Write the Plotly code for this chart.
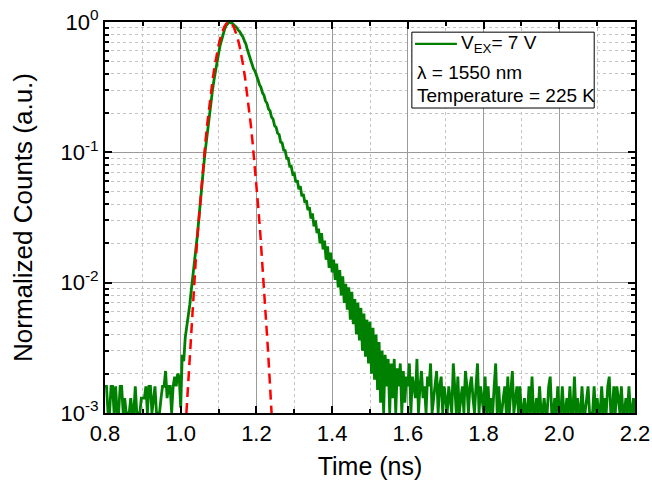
import numpy as np
import plotly.graph_objects as go

# ---------------- data ----------------
t_start_ns = 0.8
t_step_ns = 0.004

# background before the pulse, 0.800 .. 0.996 ns
counts_pre = [0.0016, 0.0016, 0.001, 0.001, 0.0016, 0.0016, 0.001, 0.0016, 0.001, 0.001,
              0.0016, 0.0016, 0.001, 0.0013, 0.001, 0.001, 0.001, 0.0013, 0.001, 0.001,
              0.0016, 0.001, 0.001, 0.001, 0.0013, 0.0013, 0.0013, 0.0016, 0.001, 0.0016,
              0.0016, 0.001, 0.0013, 0.0016, 0.001, 0.001, 0.001, 0.0013, 0.0016, 0.0016,
              0.0021, 0.0013, 0.0016, 0.0016, 0.001, 0.0016, 0.0019, 0.0016, 0.002, 0.0019]

# rising edge, 1.000 .. 1.128 ns
counts_rise = [0.0011, 0.0028, 0.0025, 0.0038, 0.0045, 0.0055, 0.0068, 0.0088, 0.011, 0.014,
               0.018, 0.023, 0.031, 0.040, 0.055, 0.075, 0.098, 0.125, 0.16, 0.20,
               0.245, 0.30, 0.36, 0.43, 0.50, 0.57, 0.66, 0.74, 0.81, 0.88,
               0.94, 0.98, 1.0]

# decay, 1.132 .. 1.596 ns
counts_decay = [0.99, 0.98, 0.95, 0.93, 0.905, 0.865, 0.845, 0.80, 0.77, 0.72,
                0.68, 0.615, 0.565, 0.515, 0.485, 0.44, 0.42, 0.38,
                0.362, 0.33, 0.315, 0.286, 0.274, 0.248, 0.238, 0.215, 0.208, 0.186,
                0.18, 0.16, 0.156, 0.14, 0.137, 0.12, 0.118, 0.104, 0.103, 0.09,
                0.09, 0.078, 0.078, 0.068, 0.069,
                0.059, 0.061, 0.052, 0.055, 0.046, 0.048, 0.041, 0.043, 0.036, 0.038,
                0.031, 0.034, 0.027, 0.030, 0.024, 0.026, 0.020, 0.024, 0.018, 0.021,
                0.015, 0.019, 0.013, 0.017, 0.012,
                0.015, 0.0105, 0.014, 0.0092, 0.0125, 0.0080, 0.0112, 0.0070, 0.0098, 0.0062,
                0.0092, 0.0052, 0.0085, 0.0048, 0.0075, 0.0040, 0.0070, 0.0036, 0.0064, 0.0030,
                0.0058, 0.0027, 0.0052, 0.0024, 0.0050,
                0.0020, 0.0045, 0.0018, 0.0040, 0.0015, 0.0035, 0.0012, 0.0030, 0.0010, 0.0028,
                0.0016, 0.0026, 0.0010, 0.0024, 0.0013, 0.0026, 0.0010, 0.0022, 0.0016, 0.0024,
                0.0010, 0.0021, 0.0012, 0.0019]

# background after the pulse, 1.600 .. 2.200 ns
counts_post = [0.0016, 0.0024, 0.001, 0.0019, 0.0016, 0.0013, 0.0026, 0.001, 0.0016, 0.0021,
               0.0013, 0.0016, 0.001, 0.0019, 0.0016, 0.0024, 0.001, 0.0013, 0.0016, 0.0021,
               0.001, 0.0016, 0.0019, 0.001, 0.0016, 0.0013,
               0.001, 0.0016, 0.0013, 0.001, 0.0024, 0.0016, 0.001, 0.0019, 0.001, 0.0013,
               0.0016, 0.001, 0.0021, 0.0016, 0.001, 0.0016, 0.0019, 0.0013, 0.001, 0.0016,
               0.0024, 0.001, 0.0016, 0.0013, 0.001,
               0.0019, 0.001, 0.0016, 0.001, 0.0013, 0.001, 0.0016, 0.0024, 0.001, 0.0016,
               0.001, 0.001, 0.0013, 0.0016, 0.001, 0.0019, 0.001, 0.0016, 0.0021, 0.001,
               0.0013, 0.0016, 0.001, 0.0016, 0.001,
               0.001, 0.0013, 0.001, 0.001, 0.0016, 0.001, 0.0019, 0.001, 0.001, 0.0013,
               0.001, 0.0016, 0.001, 0.001, 0.0013, 0.001, 0.001, 0.0016, 0.0019, 0.001,
               0.001, 0.0013, 0.001, 0.0016, 0.001,
               0.001, 0.0016, 0.001, 0.001, 0.0013, 0.001, 0.0016, 0.001, 0.001, 0.0019,
               0.001, 0.0013, 0.001, 0.001, 0.0016, 0.001, 0.001, 0.0013, 0.0016, 0.001,
               0.001, 0.001, 0.0016, 0.001, 0.0013,
               0.001, 0.001, 0.0016, 0.001, 0.0013, 0.001, 0.0016, 0.0019, 0.001, 0.001,
               0.0016, 0.001, 0.0016, 0.0013, 0.001, 0.0016, 0.001, 0.001, 0.0013, 0.001,
               0.0016, 0.001, 0.001, 0.0013, 0.001]

counts_green = counts_pre + counts_rise + counts_decay + counts_post
time_green = np.round(t_start_ns + t_step_ns * np.arange(len(counts_green)), 3)

# Gaussian fit (red dashed)
time_fit = [1.015, 1.020, 1.025, 1.030, 1.035, 1.040, 1.045, 1.050, 1.055, 1.060,
            1.065, 1.070, 1.075, 1.080, 1.085, 1.090, 1.095, 1.100, 1.105, 1.110,
            1.115, 1.120, 1.125, 1.130, 1.135, 1.140, 1.145, 1.150, 1.155, 1.160,
            1.165, 1.170, 1.175, 1.180, 1.185, 1.190, 1.195, 1.200, 1.205, 1.210,
            1.215, 1.220, 1.225, 1.230, 1.235, 1.240]
counts_fit = [0.001, 0.00181, 0.00321, 0.00554, 0.00932, 0.01524, 0.0243, 0.0375, 0.0566, 0.0829,
              0.118, 0.164, 0.222, 0.291, 0.373, 0.464, 0.562, 0.662, 0.758, 0.846,
              0.918, 0.970, 0.997, 0.997, 0.970, 0.918, 0.846, 0.758, 0.662, 0.562,
              0.464, 0.373, 0.291, 0.222, 0.164, 0.118, 0.0829, 0.0566, 0.0375, 0.0243,
              0.01524, 0.00932, 0.00554, 0.00321, 0.00181, 0.001]

x_ticks = [0.8, 1.0, 1.2, 1.4, 1.6, 1.8, 2.0, 2.2]
y_tickvals = [0.001, 0.01, 0.1, 1]
y_ticktext = ["10<sup>-3</sup>", "10<sup>-2</sup>", "10<sup>-1</sup>", "10<sup>0</sup>"]

legend_lines = ["V<sub>EX</sub>= 7 V", "λ = 1550 nm", "Temperature = 225 K"]

# ---------------- figure ----------------
FONT = "Liberation Sans, Arial, sans-serif"
GREEN = "#008000"

fig = go.Figure()
fig.add_trace(go.Scatter(x=time_green, y=counts_green, mode="lines",
                         line=dict(color=GREEN, width=2.8), showlegend=False))
fig.add_trace(go.Scatter(x=time_fit, y=counts_fit, mode="lines",
                         line=dict(color="#ff0000", width=2.5, dash="10px,6px"),
                         showlegend=False))

axis_common = dict(showline=True, linecolor="black", linewidth=2, mirror="allticks",
                   ticks="inside", ticklen=7, tickwidth=2, tickcolor="black",
                   showgrid=True, gridcolor="#9a9a9a", gridwidth=1, automargin=False,
                   ticklabeloverflow="allow",
                   tickfont=dict(family=FONT, size=22, color="black"), zeroline=False)

fig.update_xaxes(range=[0.8, 2.2], tickvals=x_ticks, tickformat=".1f",
                 minor=dict(dtick=0.1, ticks="inside", ticklen=4, tickwidth=2,
                            tickcolor="black", showgrid=True, gridcolor="#c4c4c4",
                            griddash="dot", gridwidth=1),
                 title=dict(text="Time (ns)", font=dict(family=FONT, size=25, color="black"),
                            standoff=12),
                 **axis_common)
fig.update_yaxes(type="log", range=[-3, 0], tickvals=y_tickvals, ticktext=y_ticktext,
                 minor=dict(dtick="D1", ticks="inside", ticklen=4, tickwidth=1.5,
                            tickcolor="black", showgrid=True, gridcolor="#c4c4c4",
                            griddash="dot", gridwidth=1),
                 title=dict(text="Normalized Counts (a.u.)",
                            font=dict(family=FONT, size=26, color="black"), standoff=20),
                 **axis_common)

# legend box
fig.add_shape(type="rect", xref="paper", yref="paper", x0=0.579, x1=0.923, y0=0.780, y1=0.974,
              line=dict(color="black", width=1), fillcolor="white", layer="above")
fig.add_shape(type="line", xref="paper", yref="paper", x0=0.585, x1=0.664, y0=0.944, y1=0.944,
              line=dict(color=GREEN, width=2.3), layer="above")
for txt, xp, yp in zip(legend_lines, [0.667, 0.585, 0.585], [0.944, 0.870, 0.811]):
    fig.add_annotation(text=txt, xref="paper", yref="paper", x=xp, y=yp,
                       xanchor="left", yanchor="middle", showarrow=False,
                       font=dict(family=FONT, size=19, color="black"))

fig.update_layout(width=652, height=487,
                  margin=dict(l=105, r=17, t=22, b=74),
                  plot_bgcolor="white", paper_bgcolor="white",
                  font=dict(family=FONT, color="black"))

# remove the default 8 px page margin so the figure sits at the window's corner
fig.write_html("out.html", config={"displayModeBar": False},
               post_script="document.body.style.margin='0';document.body.style.overflow='hidden';")
